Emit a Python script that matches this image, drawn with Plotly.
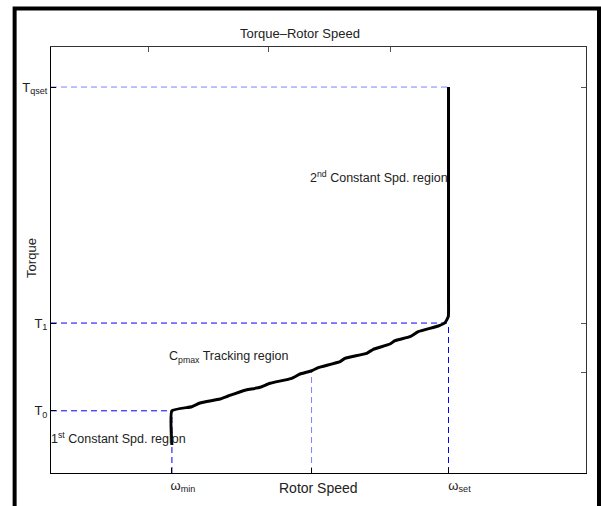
import plotly.graph_objects as go

# torque levels and speed points (axis units 0..10)
T0, T1, T_QSET = 1.46, 3.52, 9.06
W_MIN, W_MID, W_SET = 2.26, 4.87, 7.43
T_MID = 2.40

# speed/torque curve
curve_x = [2.26, 2.26, 2.630, 2.785, 3.159, 3.314, 3.594, 3.907, 4.093, 4.499, 4.654,
           4.873, 4.996, 5.402, 5.495, 5.901, 6.024, 6.336, 6.430, 6.710, 6.865,
           7.239, 7.364, 7.426, 7.43, 7.43]
curve_y = [0.657, 1.46, 1.556, 1.643, 1.737, 1.808, 1.932, 2.012, 2.106, 2.223, 2.324,
           2.401, 2.472, 2.613, 2.692, 2.810, 2.904, 3.028, 3.106, 3.200, 3.317,
           3.451, 3.528, 3.669, 4.061, 9.06]

x_tickvals = [W_MIN, W_MID, W_SET]
x_ticktext = ["ω<sub>min</sub>", "", "ω<sub>set</sub>"]
y_tickvals = [T0, T1, T_QSET]
y_ticktext = ["T<sub>0</sub>", "T<sub>1</sub>", "T<sub>qset</sub>"]
top_ticks = [1.83, 4.07, 6.34]
right_ticks = [2.35, T1, T_QSET]

FONT = "Liberation Sans, Arial, sans-serif"
BLUE = "#0000ff"
LIGHT = "#8080ff"

fig = go.Figure()

def guide(xs, ys, color):
    fig.add_trace(go.Scatter(x=xs, y=ys, mode="lines", showlegend=False,
                             line=dict(color=color, width=1, dash="6px,4px"),
                             hoverinfo="skip"))

guide([0, W_MIN], [T0, T0], BLUE)
guide([0, W_SET], [T1, T1], BLUE)
guide([0, W_SET], [T_QSET, T_QSET], LIGHT)
guide([W_MIN, W_MIN], [0, T0], BLUE)
guide([W_MID, W_MID], [0, T_MID], LIGHT)
guide([W_SET, W_SET], [0, T1], BLUE)

fig.add_trace(go.Scatter(x=curve_x, y=curve_y, mode="lines", showlegend=False,
                         line=dict(color="black", width=3, shape="spline", smoothing=0.4)))

# invisible trace so the mirrored tick axes get drawn
fig.add_trace(go.Scatter(x=[0], y=[0], xaxis="x2", yaxis="y2", mode="markers",
                         marker=dict(opacity=0), showlegend=False, hoverinfo="skip"))

fig.add_annotation(x=0.0, y=0.82, xref="x", yref="y", xanchor="left", xshift=-2,
                   showarrow=False, text="1<sup>st</sup> Constant Spd. region",
                   font=dict(size=12.5))
fig.add_annotation(x=2.16, y=2.72, xref="x", yref="y", xanchor="left", showarrow=False,
                   text="C<sub>pmax</sub> Tracking region", font=dict(size=12.5))
fig.add_annotation(x=4.80, y=6.95, xref="x", yref="y", xanchor="left", showarrow=False,
                   text="2<sup>nd</sup> Constant Spd. region", font=dict(size=12.5))
# axis titles
fig.add_annotation(x=-0.0355, y=0.505, xref="paper", yref="paper", showarrow=False,
                   xanchor="center", yanchor="middle",
                   text="Torque", textangle=-90, font=dict(size=13))
fig.add_annotation(x=0.5, y=-0.036, xref="paper", yref="paper", showarrow=False,
                   xanchor="center", yanchor="middle", text="Rotor Speed", font=dict(size=14))

# outer frame around the figure
fig.add_shape(type="rect", xref="paper", yref="paper", x0=-0.068, x1=1.0243, y0=-0.15, y1=1.0904,
              line=dict(color="black", width=4), layer="above")

fig.update_layout(
    width=601, height=506,
    margin=dict(l=51, r=15, t=47, b=33),
    paper_bgcolor="white", plot_bgcolor="white",
    font=dict(family=FONT, size=12, color="#222"),
    title=dict(text="Torque\u2013Rotor Speed", x=0.499, xref="container", xanchor="center",
               y=1 - 33 / 506, yref="container", yanchor="middle",
               font=dict(size=13, color="#222")),
    xaxis=dict(range=[0, 10], tickvals=x_tickvals, ticktext=x_ticktext, ticks="inside",
               ticklen=5, tickcolor="black", showgrid=False, zeroline=False,
               showline=True, linecolor="black", linewidth=1, automargin=False,
               ticklabelshift=11, tickfont=dict(size=13)),
    yaxis=dict(range=[0, 10], tickvals=y_tickvals, ticktext=y_ticktext, ticks="inside",
               ticklen=5, tickcolor="black", showgrid=False, zeroline=False,
               showline=True, linecolor="black", linewidth=1, automargin=False,
               tickfont=dict(size=13)),
    xaxis2=dict(range=[0, 10], overlaying="x", side="top", tickvals=top_ticks,
                showticklabels=False, ticks="inside", ticklen=5, tickcolor="#555",
                showgrid=False, zeroline=False, showline=True, linecolor="#333", linewidth=1),
    yaxis2=dict(range=[0, 10], overlaying="y", side="right", tickvals=right_ticks,
                showticklabels=False, ticks="inside", ticklen=5, tickcolor="#555",
                showgrid=False, zeroline=False, showline=True, linecolor="#333", linewidth=1),
)

# drop the default page margin so the figure fills the window exactly
fig.write_html("out.html", config={"displayModeBar": False},
               post_script="document.body.style.margin = '0';")
